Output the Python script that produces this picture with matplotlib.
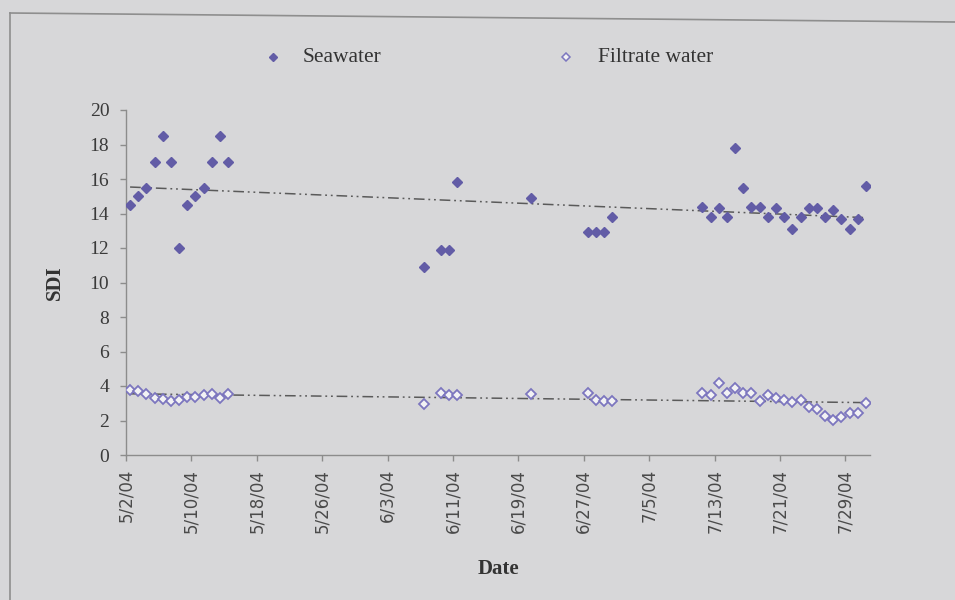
import numpy as np
import pandas as pd
import matplotlib
matplotlib.use("Agg")
import matplotlib.pyplot as plt
from matplotlib.lines import Line2D

# ---------------- data ----------------
dates = (list(pd.date_range("2004-05-02", "2004-05-14", freq="D")) +
         list(pd.to_datetime(["2004-06-07", "2004-06-09", "2004-06-10", "2004-06-11",
                              "2004-06-20", "2004-06-27", "2004-06-28", "2004-06-29",
                              "2004-06-30"])) +
         list(pd.date_range("2004-07-11", "2004-07-31", freq="D")))

seawater = [14.5, 15.0, 15.5, 17.0, 18.5, 17.0, 12.0, 14.5, 15.0, 15.5, 17.0, 18.5, 17.0,
            10.9, 11.9, 11.9, 15.8, 14.9, 12.9, 12.9, 12.9, 13.8,
            14.4, 13.8, 14.3, 13.8, 17.8, 15.5, 14.4, 14.4, 13.8, 14.3, 13.8, 13.1, 13.8,
            14.3, 14.3, 13.8, 14.2, 13.7, 13.1, 13.7, 15.6]

filtrate = [3.76, 3.72, 3.56, 3.33, 3.22, 3.14, 3.18, 3.37, 3.37, 3.49, 3.56, 3.30, 3.56,
            2.98, 3.62, 3.49, 3.49, 3.53, 3.62, 3.20, 3.14, 3.14,
            3.62, 3.49, 4.15, 3.62, 3.88, 3.62, 3.62, 3.14, 3.47, 3.33, 3.18, 3.10, 3.18,
            2.79, 2.66, 2.27, 2.03, 2.23, 2.46, 2.46, 3.04]

series_names = ["Seawater", "Filtrate water"]
tick_dates = pd.date_range("2004-05-02", "2004-07-29", freq="8D")
tick_labels = ["5/2/04", "5/10/04", "5/18/04", "5/26/04", "6/3/04", "6/11/04",
               "6/19/04", "6/27/04", "7/5/04", "7/13/04", "7/21/04", "7/29/04"]

# ---------------- style ----------------
bg = "#d7d7d9"
sea_col = "#625ca6"
fil_col = "#7c76bf"
fil_face = "#f2f2f4"
trend_col = "#5a5a5a"
text_col = "#333333"
serif = ["Liberation Serif", "DejaVu Serif"]

fig = plt.figure(figsize=(9.55, 6.0), dpi=100, facecolor=bg)
ax = fig.add_axes([126 / 955, 1 - 455 / 600, (870 - 126) / 955, (455 - 110) / 600])
ax.set_facecolor("none")

d = pd.to_datetime(pd.Series(dates))
# Excel date axis plots points between tick marks (centre of day)
xpos = d + pd.Timedelta(hours=12)
days = (d - d.iloc[0]).dt.days.values.astype(float)

# trend lines (linear least squares on date)
for vals in (seawater, filtrate):
    p = np.polyfit(days, vals, 1)
    tx = [xpos.iloc[0], xpos.iloc[-1]]
    ty = np.polyval(p, [days[0], days[-1]])
    ax.plot(tx, ty, color=trend_col, lw=1.1,
            dashes=(7, 2.5, 1.2, 2.5, 1.2, 2.5), zorder=3)

ax.plot(xpos, seawater, linestyle="none", marker="D", ms=5.2,
        mfc=sea_col, mec=sea_col, zorder=4)
ax.plot(xpos, filtrate, linestyle="none", marker="D", ms=4.6,
        mfc=fil_face, mec=fil_col, mew=1.3, zorder=4)

ax.set_xlim(pd.Timestamp("2004-05-02"), pd.Timestamp("2004-08-01"))
ax.set_ylim(0, 20)
ax.set_yticks(np.arange(0, 21, 2))
ax.set_xticks(tick_dates)
ax.set_xticklabels(tick_labels, rotation=90, fontsize=12, color="#4a4a4a",
                   family=["DejaVu Sans"])
for lab in ax.get_yticklabels():
    lab.set_family(serif)
    lab.set_fontsize(14)
    lab.set_color("#3a3a3a")

for s in ("top", "right"):
    ax.spines[s].set_visible(False)
for s in ("left", "bottom"):
    ax.spines[s].set_color("#8c8c8c")
    ax.spines[s].set_linewidth(1.0)
ax.tick_params(axis="both", colors="#8c8c8c", length=4, width=1.0)
ax.tick_params(axis="y", labelcolor="#3a3a3a", pad=8)
ax.tick_params(axis="x", labelcolor="#4a4a4a", pad=6)

ax.set_ylabel("SDI", family=serif, fontweight="bold", fontsize=15,
              color=text_col, labelpad=18)
ax.set_xlabel("Date", family=serif, fontweight="bold", fontsize=15,
              color=text_col, labelpad=19)

# legend (placed like the Excel legend at the top)
W, H = 955.0, 600.0
leg_y = 1 - 57 / H
fig.add_artist(Line2D([273 / W], [leg_y], transform=fig.transFigure, linestyle="none",
                      marker="D", ms=4, mfc=sea_col, mec=sea_col))
fig.text(303 / W, leg_y, series_names[0], family=serif, fontsize=15.5,
         color=text_col, va="center", ha="left")
fig.add_artist(Line2D([566 / W], [leg_y], transform=fig.transFigure, linestyle="none",
                      marker="D", ms=3.6, mfc=fil_face, mec=fil_col, mew=1.1))
fig.text(598 / W, leg_y, series_names[1], family=serif, fontsize=15.5,
         color=text_col, va="center", ha="left")

# chart border (scanned page)
fig.add_artist(Line2D([10 / W, 1.0], [1 - 13 / H, 1 - 22 / H],
                      transform=fig.transFigure, color="#8e8e8e", lw=1.2))
fig.add_artist(Line2D([10 / W, 10 / W], [0, 1 - 13 / H],
                      transform=fig.transFigure, color="#8e8e8e", lw=1.2))

fig.savefig("out.png", dpi=100, facecolor=bg)
